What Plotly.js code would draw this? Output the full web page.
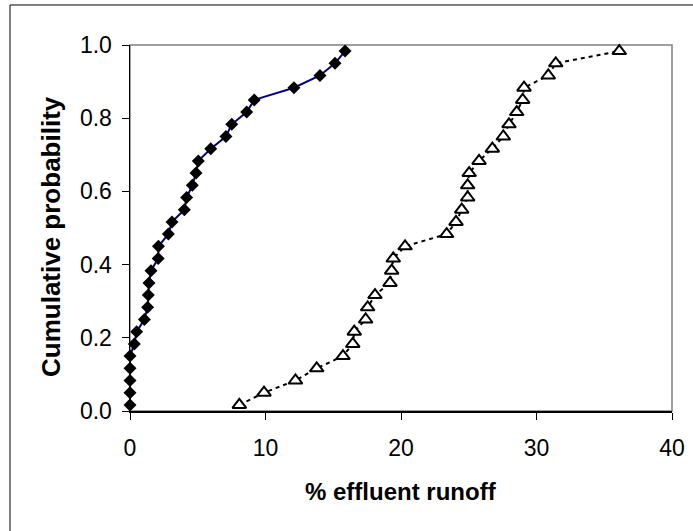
<!DOCTYPE html>
<html>
<head>
<meta charset="utf-8">
<script src="https://cdn.plot.ly/plotly-3.0.1.min.js"></script>
<style>html,body{margin:0;padding:0;background:#fff;}#chart{width:693px;height:531px;}</style>
</head>
<body>
<div id="chart"></div>
<script>
// Cumulative probability levels (30 ranked observations)
const cumProb = [0.0167,0.05,0.0833,0.1167,0.15,0.1833,0.2167,0.25,0.2833,0.3167,0.35,0.3833,0.4167,0.45,0.4833,0.5167,0.55,0.5833,0.6167,0.65,0.6833,0.7167,0.75,0.7833,0.8167,0.85,0.8833,0.9167,0.95,0.9833];
// Series 1 (filled diamonds, solid navy line)
const runoffA = [0,0,0,0,0,0.32,0.49,1.06,1.3,1.35,1.4,1.55,2.08,2.1,2.83,3.1,4.01,4.18,4.6,4.87,5.04,5.96,7.08,7.51,8.61,9.17,12.1,14.02,15.13,15.87];
// Series 2 (open triangles, dotted black line)
const runoffB = [8.07,9.89,12.21,13.78,15.72,16.44,16.55,17.39,17.54,18.08,19.19,19.31,19.43,20.3,23.37,24.06,24.48,24.92,24.92,25.03,25.76,26.74,27.55,27.97,28.54,28.98,29.08,30.87,31.42,36.11];
const xTicks = [0,10,20,30,40];
const yTicks = [0,0.2,0.4,0.6,0.8,1.0];
const xTitle = '% effluent runoff';
const yTitle = 'Cumulative probability';

const FONT = 'Liberation Sans, Arial, sans-serif';

const traces = [
  {x: runoffB, y: cumProb, mode:'lines+markers', type:'scatter',
   line:{color:'#000000', width:2, dash:'4px,4px'},
   marker:{symbol:'triangle-up', size:12, color:'#ffffff', line:{color:'#000000', width:2}},
   cliponaxis:false, showlegend:false},
  {x: runoffA, y: cumProb, mode:'lines+markers', type:'scatter',
   line:{color:'#000080', width:2},
   marker:{symbol:'diamond', size:10, color:'#000000', line:{color:'#000000', width:0}},
   cliponaxis:false, showlegend:false}
];

const layout = {
  width:693, height:531,
  margin:{l:130, r:21, t:45, b:120},
  paper_bgcolor:'#ffffff', plot_bgcolor:'#ffffff',
  font:{family:FONT, color:'#000000'},
  xaxis:{range:[0,40], tickvals:xTicks, ticktext:xTicks.map(String),
    showgrid:false, zeroline:false, showline:true, linecolor:'#000000', linewidth:1.5,
    ticks:'outside', ticklen:7, tickcolor:'#000000', tickwidth:1,
    ticklabelstandoff:9,
    tickfont:{size:23, family:FONT}},
  yaxis:{range:[0,1], tickvals:yTicks, ticktext:yTicks.map(v=>v.toFixed(1)),
    showgrid:false, zeroline:false, showline:true, linecolor:'#000000', linewidth:1.5,
    ticks:'outside', ticklen:7, tickcolor:'#000000', tickwidth:1,
    ticklabelstandoff:5,
    tickfont:{size:23, family:FONT}},
  annotations:[
    {text:xTitle, xref:'paper', yref:'paper', x:0.5, y:(411-492)/366, xanchor:'center', yanchor:'middle',
     showarrow:false, font:{size:24, family:FONT, weight:'bold', color:'#000000'}},
    {text:yTitle, xref:'paper', yref:'paper', x:(51-130)/542, y:(411-237)/366, xanchor:'center', yanchor:'middle',
     textangle:-90, showarrow:false, font:{size:26, family:FONT, weight:'bold', color:'#000000'}}
  ],
  shapes:[
    {type:'rect', xref:'paper', yref:'paper', x0:0, x1:1, y0:0, y1:1, line:{color:'#808080', width:1.5}, layer:'below'},
    {type:'rect', xref:'paper', yref:'paper', x0:-0.2214, x1:1.06, y0:-0.36, y1:1.1093, line:{color:'#000000', width:1}, layer:'below'}
  ]
};

Plotly.newPlot('chart', traces, layout, {displayModeBar:false, staticPlot:true});
</script>
</body>
</html>
